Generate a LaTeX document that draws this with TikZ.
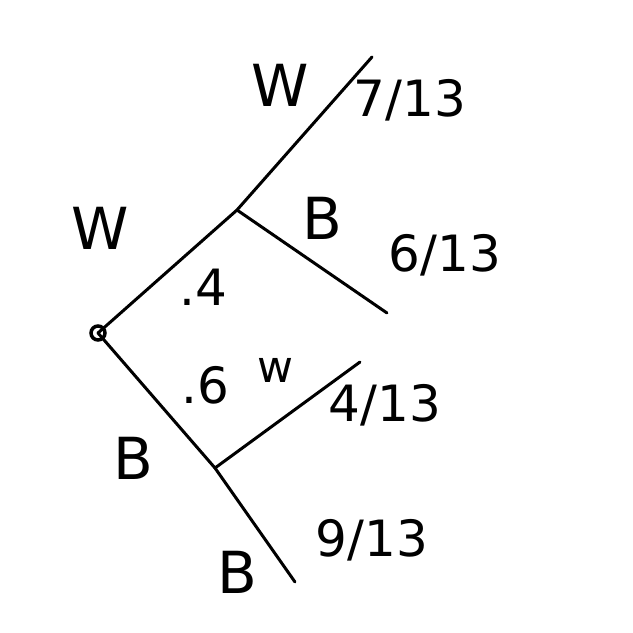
\documentclass[tikz,border=0pt]{standalone}
\usepackage{fontspec}
\setmainfont{DejaVu Sans}
\usepackage{tikz}

\tikzset{
  branch/.style={line width=3pt, line cap=round},
  big/.style={font=\fontsize{58}{64}\selectfont},
  prob/.style={font=\fontsize{50}{56}\selectfont},
  small/.style={font=\fontsize{44}{50}\selectfont}
}

\begin{document}
\begin{tikzpicture}[x=1pt, y=-1pt]
\useasboundingbox (0,0) rectangle (633,633);

% tree points
\coordinate (root) at (98,333);
\coordinate (w1) at (237,210);
\coordinate (b1) at (215,468);
\coordinate (ww) at (372,57);
\coordinate (wb) at (387,313);
\coordinate (bw) at (360,362);
\coordinate (bb) at (295,582);

\draw[branch] (root) -- (w1);
\draw[branch] (root) -- (b1);
\draw[branch] (w1) -- (ww);
\draw[branch] (w1) -- (wb);
\draw[branch] (b1) -- (bw);
\draw[branch] (b1) -- (bb);
\draw[line width=3.5pt] (root) circle (7);

% labels
\node[big] (lw1) at (100,228) {W};
\node[big] (lb1) at (133,458) {B};
\node[prob] (p4) at (203,287) {.4};
\node[prob] (p6) at (205,385) {.6};
\node[big] (lww) at (280,85) {W};
\node[prob] (fww) at (410,100) {7/13};
\node[big] (lwb) at (322,218) {B};
\node[prob] (fwb) at (445,255) {6/13};
\node[small] (lbw) at (275,370) {w};
\node[prob] (fbw) at (385,405) {4/13};
\node[prob] (fbb) at (372,540) {9/13};
\node[big] (lbb) at (237,572) {B};

\end{tikzpicture}
\end{document}
